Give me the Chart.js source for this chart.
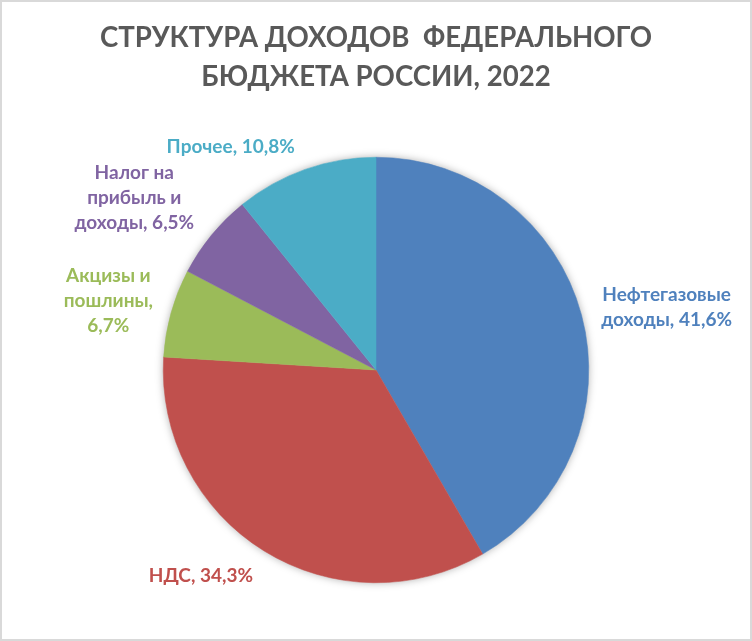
<!DOCTYPE html>
<html><head><meta charset="utf-8">
<script src="https://cdn.jsdelivr.net/npm/chart.js@4"></script>
<style>html,body{margin:0;padding:0;background:#fff}#wrap{width:752px;height:641px}</style>
</head><body><div id="wrap"><canvas id="c" width="752" height="641"></canvas></div>
<script>
const categories = ["Нефтегазовые доходы", "НДС", "Акцизы и пошлины", "Налог на прибыль и доходы", "Прочее"];
const shares = [41.6, 34.3, 6.7, 6.5, 10.8];
const colors = ["#4F81BD", "#C0504D", "#9BBB59", "#8064A2", "#4BACC6"];
const titleLines = ["СТРУКТУРА ДОХОДОВ  ФЕДЕРАЛЬНОГО", "БЮДЖЕТА РОССИИ, 2022"];

// label anchor placement relative to pie centre, in units of radius (fy = first baseline)
const labelPlace = [
  {fx: 1.366, fy: -0.324, w: 150},
  {fx: -0.823, fy: 0.997, w: 220},
  {fx: -1.258, fy: -0.415, w: 105},
  {fx: -1.136, fy: -0.900, w: 140},
  {fx: -0.683, fy: -1.020, w: 220}
];
const FONT = "Lato, 'Open Sans', sans-serif";

function fmt(v){ return v.toFixed(1).replace('.', ',') + '%'; }
function wrap(ctx, text, maxW){
  const words = text.split(' ');
  const lines = [];
  let cur = '';
  for (const w of words){
    const t = cur ? cur + ' ' + w : w;
    if (cur && ctx.measureText(t).width > maxW){ lines.push(cur); cur = w; }
    else cur = t;
  }
  if (cur) lines.push(cur);
  return lines;
}

const shadowPlugin = {
  id: 'pieShadow',
  beforeDatasetsDraw(chart){
    const arc = chart.getDatasetMeta(0).data[0];
    if (!arc) return;
    const ctx = chart.ctx;
    ctx.save();
    ctx.shadowColor = 'rgba(0,0,0,0.35)';
    ctx.shadowBlur = 8;
    ctx.fillStyle = '#ffffff';
    ctx.beginPath();
    ctx.arc(arc.x, arc.y, arc.outerRadius - 0.5, 0, Math.PI * 2);
    ctx.fill();
    ctx.restore();
  }
};

const labelPlugin = {
  id: 'sliceLabels',
  afterDatasetsDraw(chart){
    const ctx = chart.ctx;
    const meta = chart.getDatasetMeta(0);
    ctx.save();
    ctx.font = "bold 19px " + FONT;
    ctx.textAlign = 'center';
    ctx.textBaseline = 'alphabetic';
    meta.data.forEach((arc, i) => {
      const p = labelPlace[i];
      const x0 = arc.x + p.fx * arc.outerRadius;
      const y0 = arc.y + p.fy * arc.outerRadius;
      const lines = wrap(ctx, categories[i] + ', ' + fmt(shares[i]), p.w);
      ctx.fillStyle = colors[i];
      lines.forEach((ln, k) => ctx.fillText(ln, x0, y0 + k * 25.3));
    });
    ctx.restore();
  }
};

const framePlugin = {
  id: 'frame',
  beforeDraw(chart){
    const ctx = chart.ctx;
    ctx.save();
    ctx.fillStyle = '#fff';
    ctx.fillRect(0, 0, chart.width, chart.height);
    ctx.restore();
  },
  afterDraw(chart){
    const ctx = chart.ctx;
    ctx.save();
    ctx.strokeStyle = '#d9d9d9';
    ctx.lineWidth = 2;
    ctx.strokeRect(1, 1, chart.width - 2, chart.height - 2);
    ctx.restore();
  }
};

new Chart(document.getElementById('c'), {
  type: 'pie',
  data: {
    labels: categories,
    datasets: [{
      data: shares,
      backgroundColor: colors,
      borderColor: colors,
      borderWidth: 0.5
    }]
  },
  options: {
    responsive: false,
    animation: false,
    devicePixelRatio: 1,
    layout: {padding: {top: 18.25, bottom: 58, left: 0, right: 0}},
    plugins: {
      legend: {display: false},
      tooltip: {enabled: false},
      title: {
        display: true,
        text: titleLines,
        color: '#595959',
        font: {family: FONT, size: 27.6, weight: 'bold', lineHeight: 39.5 / 27.6},
        padding: {top: 0, bottom: 59.75}
      }
    }
  },
  plugins: [framePlugin, shadowPlugin, labelPlugin]
});
</script>
</body></html>
